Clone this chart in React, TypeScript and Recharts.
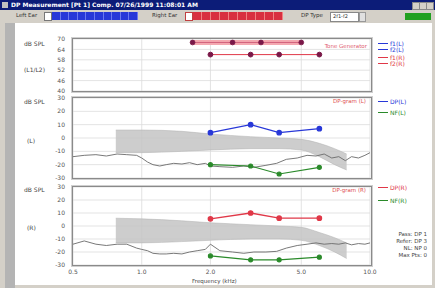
import React from "react";
import { ComposedChart, Line, Area, XAxis, YAxis, CartesianGrid } from "recharts";

// ---------- data ----------
const freqTicks = [0.5, 1, 2, 5, 10];
const levelTicks = [40, 46, 52, 58, 64, 70];
const dbTicks = [-30, -20, -10, 0, 10, 20, 30];

const f1Freqs = [1.67, 2.5, 3.33, 5.0];
const f2Freqs = [2.0, 3.0, 4.0, 6.0];
const l1Levels = [68, 68, 68, 68];
const l2Levels = [61, 61, 61, 61];

const dpLeft = [4, 10, 4, 7];
const nfLeft = [-20, -21, -27, -22];
const dpRight = [5.5, 10, 6, 6];
const nfRight = [-23, -26, -26, -24];

const bandFreqs = [0.77, 1.0, 1.5, 2.0, 3.0, 4.0, 5.0, 6.0, 7.0, 7.9];
const bandLeftLow = [-11, -11, -10, -9, -8, -8, -9, -14, -20, -24];
const bandLeftHigh = [6, 6, 5, 3, 1, 0, -1, -4, -8, -12];
const bandRightLow = [-13, -13, -12, -11, -10, -10, -11, -15, -20, -25];
const bandRightHigh = [6, 5.5, 4, 2.5, 1, 0, -1, -5, -9, -13];

const spectrumFreqs = [0.5, 0.56, 0.63, 0.7, 0.78, 0.86, 0.95, 1.0, 1.06, 1.12, 1.2, 1.28, 1.38, 1.5, 1.62, 1.75, 1.9, 2.0, 2.2, 2.5, 2.8, 3.1, 3.5, 3.9, 4.3, 4.8, 5.3, 5.8, 6.3, 6.8, 7.3, 7.8, 8.3, 8.9, 9.5, 10];
const spectrumLeft = [-14, -13, -12.5, -13.5, -12, -12.5, -13, -15, -18, -20, -21, -20, -19, -19.5, -18.5, -20, -19, -21, -21.5, -22, -21, -22, -20.5, -19, -16, -15, -13, -13.5, -12, -15, -14, -17, -14, -15, -13, -11];
const spectrumRight = [-14, -11.5, -14, -15, -14, -14, -17, -18, -19, -21, -21.5, -21.5, -21, -21.5, -20, -19, -18, -14, -19, -20, -21, -20, -20, -19.5, -17, -15, -14, -13, -14, -13.5, -14, -13, -14.5, -13.5, -14, -13];

// ---------- helpers ----------
const zip = (xs: number[], ys: number[]) => xs.map((f, i) => ({ f, v: ys[i] }));
const zipRange = (xs: number[], lo: number[], hi: number[]) => xs.map((f, i) => ({ f, r: [lo[i], hi[i]] }));

const FONT = "DejaVu Sans, sans-serif";
const tickStyle = { fontSize: 6, fill: "#555", fontFamily: FONT };

const BLUE = "#2838d8";
const RED = "#e03848";
const GREEN = "#2a8a2a";
const DOT = "#7a1848";

const W = 435;
const ML = 43;
const MR = 65;
const YW = 30;

const abs = (s: React.CSSProperties): React.CSSProperties => ({ position: "absolute", ...s });

function Frame({ top, h }: { top: number; h: number }) {
  return (
    <div
      style={abs({
        left: 72,
        top: top - 1,
        width: 298,
        height: h,
        border: "1px solid #8a8a8a",
        boxShadow: "0 0 0 1px #cfcfcf",
        pointerEvents: "none",
      })}
    />
  );
}

function LegendItem({ x, y, color, label }: { x: number; y: number; color: string; label: string }) {
  return (
    <div style={abs({ left: x, top: y - 4, height: 8, display: "flex", alignItems: "center" })}>
      <div style={{ width: 10, height: 1, background: color, marginRight: 2 }} />
      <span style={{ fontSize: 6, color, fontFamily: FONT, whiteSpace: "nowrap" }}>{label}</span>
    </div>
  );
}

function Txt({ x, y, children, color = "#444", size = 6, right = false }: any) {
  return (
    <div
      style={abs({
        left: right ? undefined : x,
        right: right ? W - x : undefined,
        top: y - size / 2 - 1,
        fontSize: size,
        color,
        fontFamily: FONT,
        whiteSpace: "nowrap",
        lineHeight: `${size + 2}px`,
      })}
    >
      {children}
    </div>
  );
}

function DbPanel({
  top,
  height,
  showX,
  dp,
  nf,
  dpColor,
  bandLo,
  bandHi,
  spectrum,
}: {
  top: number;
  height: number;
  showX: boolean;
  dp: number[];
  nf: number[];
  dpColor: string;
  bandLo: number[];
  bandHi: number[];
  spectrum: number[];
}) {
  const xh = showX ? 12 : 0;
  const mb = showX ? 0 : 5;
  return (
    <div style={abs({ left: 0, top: top - 5 })}>
      <ComposedChart width={W} height={height + 5 + mb + xh} margin={{ top: 5, right: MR, left: ML, bottom: mb }}>
        <CartesianGrid stroke="#dcdcdc" strokeWidth={0.8} />
        <XAxis
          type="number"
          dataKey="f"
          scale="log"
          domain={[0.5, 10]}
          ticks={freqTicks}
          allowDataOverflow
          hide={!showX}
          height={xh}
          tickLine={false}
          axisLine={false}
          tickSize={4}
          tickMargin={1}
          tick={tickStyle}
          tickFormatter={(v: number) => v.toFixed(1)}
          interval={0}
        />
        <YAxis
          type="number"
          domain={[-30, 30]}
          ticks={dbTicks}
          width={YW}
          tickLine={false}
          axisLine={false}
          tick={tickStyle}
          interval={0}
          allowDataOverflow
        />
        <Area
          data={zipRange(bandFreqs, bandLo, bandHi)}
          dataKey="r"
          type="monotone"
          stroke="#b0b0b0"
          strokeWidth={0.5}
          fill="#c4c4c4"
          fillOpacity={0.85}
          isAnimationActive={false}
        />
        <Line
          data={zip(spectrumFreqs, spectrum)}
          dataKey="v"
          stroke="#6a6a6a"
          strokeWidth={0.9}
          dot={false}
          isAnimationActive={false}
        />
        <Line
          data={zip(f2Freqs, nf)}
          dataKey="v"
          stroke={GREEN}
          strokeWidth={1.2}
          dot={{ r: 2, fill: GREEN, stroke: GREEN }}
          isAnimationActive={false}
        />
        <Line
          data={zip(f2Freqs, dp)}
          dataKey="v"
          stroke={dpColor}
          strokeWidth={1.3}
          dot={{ r: 2.2, fill: dpColor, stroke: dpColor }}
          isAnimationActive={false}
        />
      </ComposedChart>
    </div>
  );
}

export default function App() {
  const segs = Array.from({ length: 10 });
  return (
    <div style={abs({ left: 0, top: 0, width: W, height: 288, background: "#d4d0c8", overflow: "hidden", fontFamily: FONT })}>
      {/* title bar */}
      <div style={abs({ left: 0, top: 0, width: W, height: 10, background: "#0c1c78" })} />
      <div style={abs({ left: 2, top: 2, width: 6, height: 6, background: "#c0c0c0" })} />
      <Txt x={11} y={5} color="#fff" size={6}>
        <b>DP Measurement [Pt 1] Comp. 07/26/1999 11:08:01 AM</b>
      </Txt>
      {[412, 419, 426].map((x) => (
        <div key={x} style={abs({ left: x, top: 2, width: 6, height: 6, background: "#d4d0c8", border: "0.5px solid #888" })} />
      ))}

      {/* toolbar */}
      <Txt x={16} y={16} color="#333" size={5.5}>Left Ear</Txt>
      <div style={abs({ left: 44, top: 12, width: 6, height: 7, background: "#fff", border: "1px solid #777" })} />
      <div style={abs({ left: 52, top: 12, width: 86, height: 8, background: BLUE, display: "flex" })}>
        {segs.map((_, i) => (
          <div key={i} style={{ flex: 1, borderRight: "1px solid #6a78f0" }} />
        ))}
      </div>
      <Txt x={152} y={16} color="#333" size={5.5}>Right Ear</Txt>
      <div style={abs({ left: 185, top: 12, width: 6, height: 7, background: "#fff", border: "1px solid #c04040" })} />
      <div style={abs({ left: 193, top: 12, width: 90, height: 8, background: "#d83040", display: "flex" })}>
        {segs.map((_, i) => (
          <div key={i} style={{ flex: 1, borderRight: "1px solid #f08080" }} />
        ))}
      </div>
      <Txt x={301} y={16} color="#333" size={5.5}>DP Type</Txt>
      <div style={abs({ left: 330, top: 12, width: 27, height: 8, background: "#fff", border: "1px solid #888" })} />
      <Txt x={333} y={16} color="#333" size={5}>2f1-f2</Txt>
      <div style={abs({ left: 359, top: 12, width: 5, height: 8, background: "#e0e0e0", border: "1px solid #999" })} />
      <div style={abs({ left: 405, top: 13, width: 26, height: 7, background: "#20a020" })} />

      {/* main area */}
      <div style={abs({ left: 5, top: 23, width: 10, height: 265, background: "#b4b4b4" })} />
      <div style={abs({ left: 15, top: 23, width: 417, height: 262, background: "#ffffff" })} />

      {/* left labels */}
      <Txt x={24} y={44} size={6}>dB SPL</Txt>
      <Txt x={24} y={70} size={6}>(L1/L2)</Txt>
      <Txt x={24} y={102} size={6}>dB SPL</Txt>
      <Txt x={27} y={141} size={6}>(L)</Txt>
      <Txt x={24} y={190} size={6}>dB SPL</Txt>
      <Txt x={27} y={228} size={6}>(R)</Txt>

      {/* top panel: stimulus levels */}
      <div style={abs({ left: 0, top: 34 })}>
        <ComposedChart width={W} height={62} margin={{ top: 5, right: MR, left: ML, bottom: 5 }}>
          <CartesianGrid stroke="#dcdcdc" strokeWidth={0.8} />
          <XAxis type="number" dataKey="f" scale="log" domain={[0.5, 10]} ticks={freqTicks} allowDataOverflow hide />
          <YAxis
            type="number"
            domain={[40, 70]}
            ticks={levelTicks}
            width={YW}
            tickLine={false}
            axisLine={false}
            tick={tickStyle}
            interval={0}
          />
          <Line data={zip(f1Freqs, l1Levels)} dataKey="v" stroke="#f4a8b0" strokeWidth={5} dot={false} isAnimationActive={false} />
          <Line
            data={zip(f1Freqs, l1Levels)}
            dataKey="v"
            stroke="#c85070"
            strokeWidth={0.8}
            dot={{ r: 2.4, fill: DOT, stroke: DOT }}
            isAnimationActive={false}
          />
          <Line
            data={zip(f2Freqs, l2Levels)}
            dataKey="v"
            stroke={RED}
            strokeWidth={1}
            dot={{ r: 2.4, fill: DOT, stroke: DOT }}
            isAnimationActive={false}
          />
        </ComposedChart>
      </div>
      <Txt x={367} y={47} color="#e06070" size={5.5} right>Tone Generator</Txt>
      <Frame top={39} h={52} />

      {/* middle panel: left ear */}
      <DbPanel
        top={98}
        height={80}
        showX={false}
        dp={dpLeft}
        nf={nfLeft}
        dpColor={BLUE}
        bandLo={bandLeftLow}
        bandHi={bandLeftHigh}
        spectrum={spectrumLeft}
      />
      <Txt x={366} y={102} color="#e05050" size={5.5} right>DP-gram (L)</Txt>
      <Frame top={98} h={80} />

      {/* bottom panel: right ear */}
      <DbPanel
        top={187}
        height={78}
        showX={true}
        dp={dpRight}
        nf={nfRight}
        dpColor={RED}
        bandLo={bandRightLow}
        bandHi={bandRightHigh}
        spectrum={spectrumRight}
      />
      <Txt x={366} y={191} color="#e05050" size={5.5} right>DP-gram (R)</Txt>
      <Frame top={187} h={78} />
      <Txt x={192} y={282} size={5.5}>Frequency (kHz)</Txt>

      {/* legends */}
      <LegendItem x={378} y={43} color={BLUE} label="f1(L)" />
      <LegendItem x={378} y={49} color={BLUE} label="f2(L)" />
      <LegendItem x={378} y={57} color={RED} label="f1(R)" />
      <LegendItem x={378} y={63} color={RED} label="f2(R)" />
      <LegendItem x={378} y={101} color={BLUE} label="DP(L)" />
      <LegendItem x={378} y={112} color={GREEN} label="NF(L)" />
      <LegendItem x={378} y={187} color={RED} label="DP(R)" />
      <LegendItem x={378} y={200} color={GREEN} label="NF(R)" />

      <Txt x={427} y={235} size={5.5} right>Pass: DP 1</Txt>
      <Txt x={427} y={242} size={5.5} right>Refer: DP 3</Txt>
      <Txt x={427} y={249} size={5.5} right>NL: NP 0</Txt>
      <Txt x={427} y={256} size={5.5} right>Max Pts: 0</Txt>
    </div>
  );
}
